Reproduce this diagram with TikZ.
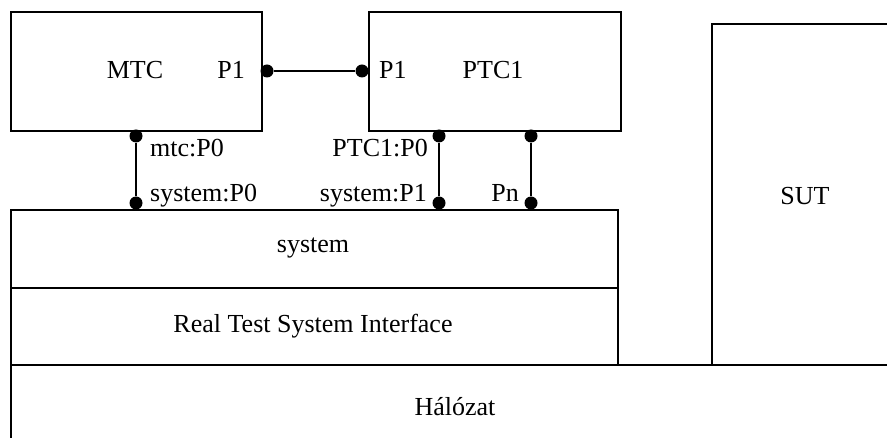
\documentclass[tikz,border=0pt]{standalone}
\usepackage{fontspec}
\setmainfont{Liberation Serif}
\begin{document}
\begin{tikzpicture}[x=1pt, y=-1pt,
  every node/.style={font=\fontsize{26}{30}\selectfont},
  box/.style={draw, line width=2pt, rectangle, inner sep=0pt, anchor=north west},
  port/.style={circle, fill=black, inner sep=0pt, minimum size=13pt},
  link/.style={line width=2pt},
  lbl/.style={inner sep=0pt}
]
\clip (0,0) rectangle (887,438);

% component boxes
\node[box, minimum width=251pt, minimum height=119pt] (mtc) at (10,11) {};
\node[box, minimum width=252pt, minimum height=119pt] (ptc) at (368,11) {};
\node[box, minimum width=607pt, minimum height=78pt]  (sys) at (10,209) {};
\node[box, minimum width=607pt, minimum height=77pt]  (rtsi) at (10,287) {};
\node[box, minimum width=200pt, minimum height=341pt] (sut) at (711,23) {};
\node[box, minimum width=900pt, minimum height=100pt] (net) at (10,364) {};

% box titles
\node[lbl, anchor=base] (mtct) at (135,79) {MTC};
\node[lbl, anchor=base] (ptct) at (493,79) {PTC1};
\node[lbl, anchor=base] (syst) at (313,253) {system};
\node[lbl, anchor=base] (rtsit) at (313,333) {Real Test System Interface};
\node[lbl, anchor=base] (sutt) at (805,205) {SUT};
\node[lbl, anchor=base] (nett) at (455,416) {Hálózat};

% port labels
\node[lbl, anchor=base east] (mp1t) at (245,79) {P1};
\node[lbl, anchor=base west] (pp1t) at (379,79) {P1};
\node[lbl, anchor=base west] (mp0t) at (150,157) {mtc:P0};
\node[lbl, anchor=base west] (sp0t) at (150,202) {system:P0};
\node[lbl, anchor=base east] (pp0t) at (428,157) {PTC1:P0};
\node[lbl, anchor=base east] (sp1t) at (427,202) {system:P1};
\node[lbl, anchor=base east] (pnt)  at (519,202) {Pn};

% ports
\node[port] (mp1) at (267,71) {};
\node[port] (pp1) at (362,71) {};
\node[port] (mp0) at (136,136) {};
\node[port] (sp0) at (136,203) {};
\node[port] (pp0) at (439,136) {};
\node[port] (sp1) at (439,203) {};
\node[port] (ppn) at (531,136) {};
\node[port] (spn) at (531,203) {};

% connections
\draw[link] (mp1) -- (pp1);
\draw[link] (mp0) -- (sp0);
\draw[link] (pp0) -- (sp1);
\draw[link] (ppn) -- (spn);
\end{tikzpicture}
\end{document}
